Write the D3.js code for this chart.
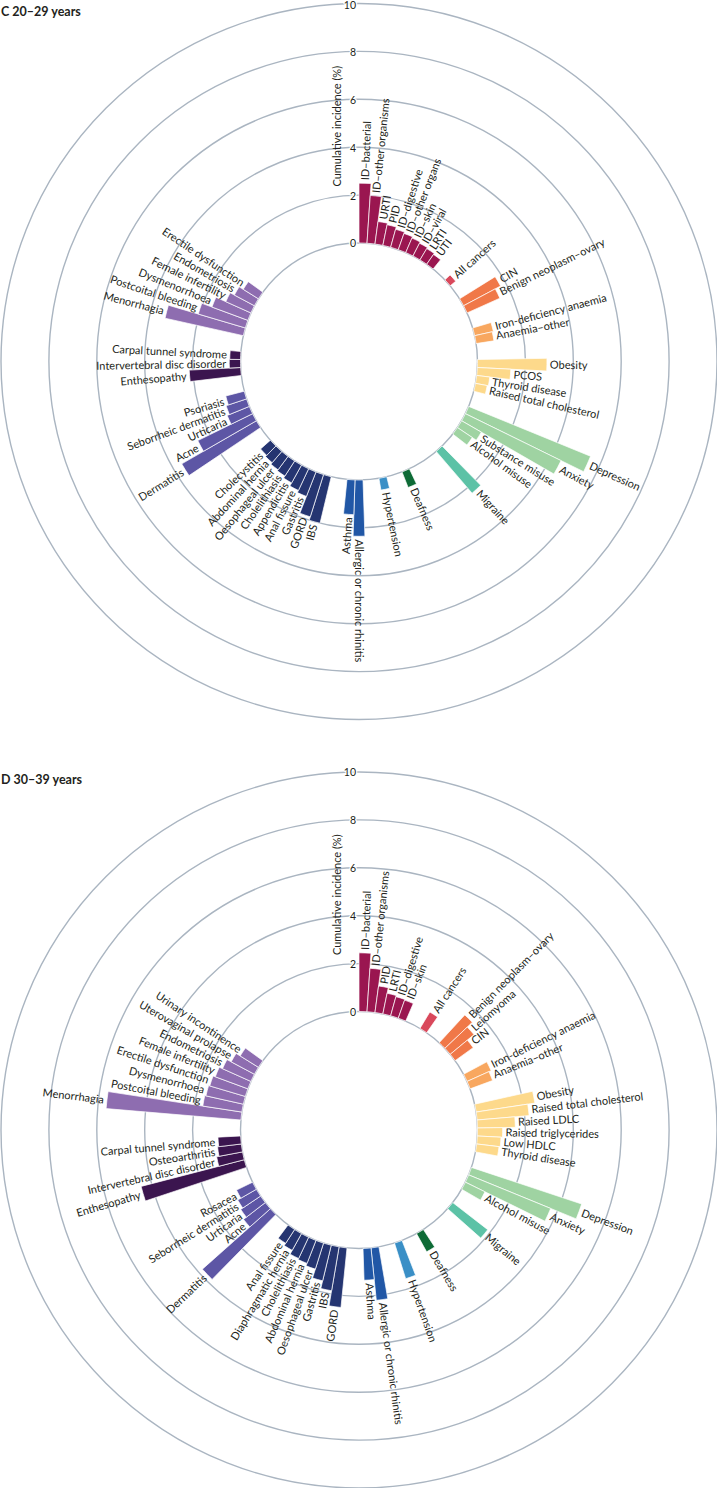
<!DOCTYPE html>
<html>
<head>
<meta charset="utf-8">
<script src="https://cdn.jsdelivr.net/npm/d3@7"></script>
<style>
  body { margin: 0; background: #fff; }
  text { font-family: Lato, "Noto Sans", sans-serif; fill: #231f20; }
</style>
</head>
<body>
<svg id="chart" width="717" height="1488"></svg>
<script>
var ticks = [0, 2, 4, 6, 8, 10];

// one colour per disease group; group 7 has no bars in either panel
var groupColors = ['#9a1650', '#d9485b', '#f07848', '#f8a75f', '#fdd98b', '#9fd3a2', '#5cc2a6',
  null, '#0e6b36', '#3a8fc6', '#2157a6', '#253571', '#5d56a5', '#3b154f', '#8e6db0'];

// panel C, 20-29 years
var cNames = ['ID–bacterial', 'ID–other organisms', 'URTI', 'PID', 'ID–digestive', 'ID–other organs',
  'ID–skin', 'ID–viral', 'LRTI', 'UTI', 'All cancers', 'CIN', 'Benign neoplasm–ovary',
  'Iron-deficiency anaemia', 'Anaemia–other', 'Obesity', 'PCOS', 'Thyroid disease',
  'Raised total cholesterol', 'Depression', 'Anxiety', 'Substance misuse', 'Alcohol misuse',
  'Migraine', 'Deafness', 'Hypertension', 'Allergic or chronic rhinitis', 'Asthma', 'IBS', 'GORD',
  'Gastritis', 'Anal fissure', 'Appendicitis', 'Cholelithiasis', 'Oesophageal ulcer',
  'Abdominal hernia', 'Cholecystitis', 'Dermatitis', 'Acne', 'Urticaria', 'Seborrheic dermatitis',
  'Psoriasis', 'Enthesopathy', 'Intervertebral disc disorder', 'Carpal tunnel syndrome',
  'Menorrhagia', 'Postcoital bleeding', 'Dysmenorrhoea', 'Female infertility', 'Endometriosis',
  'Erectile dysfunction'];
var cValues = [2.5, 2.0, 0.95, 0.88, 0.78, 0.72, 0.66, 0.6, 0.55, 0.5, 0.3, 1.75, 1.5, 0.8, 0.75,
  2.9, 1.4, 0.55, 0.5, 5.5, 4.45, 0.95, 0.75, 2.3, 0.7, 0.5, 2.35, 1.45, 2.0, 1.85, 1.1, 1.0, 0.85,
  0.75, 0.7, 0.62, 0.55, 3.6, 2.55, 1.0, 0.9, 0.8, 2.15, 0.47, 0.45, 3.35, 2.05, 1.6, 1.15, 0.95, 0.75];
var cGroups = [0, 0, 0, 0, 0, 0, 0, 0, 0, 0, 1, 2, 2, 3, 3, 4, 4, 4, 4, 5, 5, 5, 5, 6, 8, 9, 10, 10,
  11, 11, 11, 11, 11, 11, 11, 11, 11, 12, 12, 12, 12, 12, 13, 13, 13, 14, 14, 14, 14, 14, 14];

// panel D, 30-39 years
var dNames = ['ID–bacterial', 'ID–other organisms', 'PID', 'LRTI', 'ID–digestive', 'ID–skin',
  'All cancers', 'Benign neoplasm–ovary', 'Leiomyoma', 'CIN', 'Iron-deficiency anaemia',
  'Anaemia–other', 'Obesity', 'Raised total cholesterol', 'Raised LDLC', 'Raised triglycerides',
  'Low HDLC', 'Thyroid disease', 'Depression', 'Anxiety', 'Alcohol misuse', 'Migraine', 'Deafness',
  'Hypertension', 'Allergic or chronic rhinitis', 'Asthma', 'GORD', 'IBS', 'Gastritis',
  'Oesophageal ulcer', 'Abdominal hernia', 'Cholelithiasis', 'Diaphragmatic hernia', 'Anal fissure',
  'Dermatitis', 'Acne', 'Urticaria', 'Seborrheic dermatitis', 'Rosacea', 'Enthesopathy',
  'Intervertebral disc disorder', 'Osteoarthritis', 'Carpal tunnel syndrome', 'Menorrhagia',
  'Postcoital bleeding', 'Dysmenorrhoea', 'Erectile dysfunction', 'Female infertility',
  'Endometriosis', 'Uterovaginal prolapse', 'Urinary incontinence'];
var dValues = [2.45, 1.82, 1.12, 0.88, 0.83, 0.8, 0.8, 1.58, 1.29, 0.93, 1.1, 1.0, 2.48, 2.18, 1.58,
  1.05, 0.99, 0.94, 4.85, 3.7, 0.91, 1.85, 0.87, 1.56, 2.2, 1.33, 2.5, 1.86, 1.53, 1.14, 1.03, 0.98,
  0.8, 0.69, 3.8, 1.15, 1.0, 0.9, 0.75, 4.45, 1.1, 1.0, 0.95, 5.65, 1.65, 1.6, 1.55, 1.45, 1.3, 1.1, 0.9];
var dGroups = [0, 0, 0, 0, 0, 0, 1, 2, 2, 2, 3, 3, 4, 4, 4, 4, 4, 4, 5, 5, 5, 6, 8, 9, 10, 10,
  11, 11, 11, 11, 11, 11, 11, 11, 12, 12, 12, 12, 12, 13, 13, 13, 13, 14, 14, 14, 14, 14, 14, 14, 14];

var svg = d3.select('#chart');

var y = d3.scaleLinear().domain([0, 10]).range([118.5, 358]);

// bars go round in slots, two empty slots after every group
function slotKeys(groups) {
  var keys = [];
  for (var g = 0; g < groupColors.length; g++) {
    groups.forEach(function(d, i) { if (d === g) keys.push(i); });
    keys.push('gap' + g + 'a', 'gap' + g + 'b');
  }
  while (keys.length < 93) keys.push('pad' + keys.length);
  return keys;
}

function drawPanel(title, names, values, groups, cx, cy) {
  var x = d3.scaleBand()
    .domain(slotKeys(groups))
    .range([0, 2 * Math.PI]);

  svg.append('text')
    .attr('x', 1)
    .attr('y', cy - 346)
    .style('font-size', '12.5px')
    .style('font-weight', 'bold')
    .text(title);

  var g = svg.append('g').attr('transform', 'translate(' + cx + ',' + cy + ')');

  g.selectAll('circle.ring')
    .data(ticks)
    .enter()
    .append('circle')
      .attr('class', 'ring')
      .attr('r', d => y(d))
      .attr('fill', 'none')
      .attr('stroke', '#aab5c1')
      .attr('stroke-width', 1.4);

  var arc = d3.arc()
    .innerRadius(y(0))
    .outerRadius((d, i) => y(values[i]))
    .startAngle((d, i) => x(i))
    .endAngle((d, i) => x(i) + x.bandwidth());

  g.selectAll('path.bar')
    .data(names)
    .enter()
    .append('path')
      .attr('class', 'bar')
      .attr('d', arc)
      .attr('fill', (d, i) => groupColors[groups[i]])
      .attr('stroke', '#fff')
      .attr('stroke-width', 0.7);

  g.selectAll('text.label')
    .data(names)
    .enter()
    .append('text')
      .attr('class', 'label')
      .style('font-size', '11px')
      .attr('dy', '0.35em')
      .attr('text-anchor', (d, i) => (x(i) + x.bandwidth() / 2) > Math.PI ? 'end' : 'start')
      .attr('transform', function(d, i) {
        var a = x(i) + x.bandwidth() / 2;
        var r = y(values[i]) + 3;
        var deg = a * 180 / Math.PI - 90;
        if (a > Math.PI) deg += 180;
        return 'translate(' + (r * Math.sin(a)) + ',' + (-r * Math.cos(a)) + ') rotate(' + deg + ')';
      })
      .text(d => d);

  // value labels on the rings, just left of the start line
  // (kept inside the page at the very top)
  g.selectAll('text.tick')
    .data(ticks)
    .enter()
    .append('text')
      .attr('class', 'tick')
      .attr('x', -3)
      .attr('y', d => Math.max(-y(d), -cy + 5))
      .attr('dy', '0.42em')
      .attr('text-anchor', 'end')
      .style('font-size', '10.5px')
      .style('stroke', '#fff')
      .style('stroke-width', 2.5)
      .style('paint-order', 'stroke')
      .text(d => d);

  g.append('text')
    .attr('transform', 'translate(-18,' + (-y(5) + 3) + ') rotate(-90)')
    .attr('text-anchor', 'middle')
    .style('font-size', '11px')
    .text('Cumulative incidence (%)');
}

drawPanel('C 20–29 years', cNames, cValues, cGroups, 359, 361.5);
drawPanel('D 30–39 years', dNames, dValues, dGroups, 359, 1130);
</script>
</body>
</html>
